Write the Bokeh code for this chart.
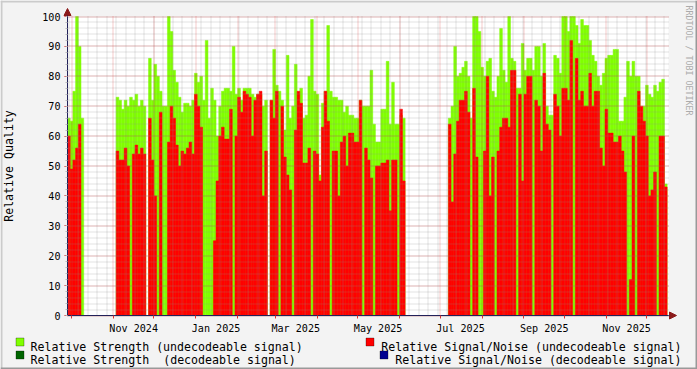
import math
import pandas as pd
from bokeh.plotting import figure
from bokeh.models import (Range1d, FixedTicker, Label, BoxAnnotation, Arrow,
                          NormalHead, DatetimeTickFormatter, ColumnDataSource)
from bokeh.embed import file_html
from bokeh.resources import INLINE

nan = float("nan")

# ---------------- data ----------------
START = "2024-09-28"
END = "2025-12-17"
BIN_DAYS = 2

# Relative Strength (undecodeable signal), one value per 2-day bin
strength = [
    66, 65, 75, 100, 90, 66,
    nan, nan, nan, nan, nan, nan, nan, nan, nan, nan, nan, nan,
    73, 72, 69, 72, 70, 73, 72, 74, 70, 72, 70,
    nan,
    86, 72, 84, 80, 75, 70, 70, 100, 95, 82,
    78, 73, 68, 71, 71, 70, 72, 81, 78, 80,
    72, 92, 66, 76, 72, 60, 70, 75, 76, 76,
    75, 90, 74, 76, 72, 76, 76, 76, 74, 73,
    74, 74, 70, 72, nan, 72, 89, 77, 75, 72,
    62, 87, 66, 70, 84, 74, 76, 66, 67, 80,
    99, 75, 74, 47, 71, 75, 97, 75, 73, 73,
    72, 72, 68, 70, 67, 67, 66, 66, 72, 70,
    70, 70, 82, 64, 58, 58, 69, 69, 85, 64,
    78, 64, 64, 67, 66,
    nan, nan, nan, nan, nan, nan, nan, nan, nan, nan, nan, nan, nan, nan, nan, nan,
    66, 70, 90, 80, 81, 83, 85, 80, 66,
    100, 100, 95, 83, 80, 85, 86, 75, 73, 80,
    96, 82, 78, 100, 86, 85, 76, 76, 91, 82,
    86, 86, 82, 90, 90, 80, 91, 70, 67, 67,
    87, 86, 81, 100, 100, 95, 100, 100, 97, 91,
    99, 97, 97, 92, 87, 85, 80, 77, 81, 86,
    87, 87, 89, 89, 65, 65, 73, 85, 80, 85,
    80, 80, 65, 70, 77, 74, 73, 77, 75, 78,
    79, 44,
]

# Relative Signal/Noise (undecodeable signal), one value per 2-day bin
snr = [
    60, 49, 52, 56, 64, 0,
    nan, nan, nan, nan, nan, nan, nan, nan, nan, nan, nan, nan,
    55, 52, 52, 56, 50, 0, 54, 57, 54, 56, 54,
    nan,
    66, 52, 40, 0, 68, 0, 0, 58, 70, 66,
    57, 50, 55, 54, 56, 58, 54, 74, 70, 63,
    0, 0, 0, 0, 25, 45, 60, 63, 59, 59,
    69, 0, 60, 73, 68, 75, 74, 73, 60, 72,
    74, 75, 40, 55, nan, 72, 66, 75, 0, 70,
    53, 47, 42, 0, 62, 75, 71, 51, 51, 56,
    0, 55, 54, 45, 63, 75, 65, 0, 55, 55,
    40, 58, 60, 50, 61, 61, 58, 58, 72, 0,
    56, 52, 46, 0, 50, 50, 51, 51, 52, 35,
    52, 52, 0, 69, 45,
    nan, nan, nan, nan, nan, nan, nan, nan, nan, nan, nan, nan, nan, nan, nan, nan,
    64, 38, 54, 65, 72, 72, 75, 68, 0,
    76, 53, 0, 0, 55, 80, 40, 53, 0, 55,
    63, 66, 66, 63, 82, 82, 0, 74, 45, 74,
    80, 80, 0, 72, 70, 55, 81, 64, 62, 0,
    74, 70, 60, 76, 76, 72, 92, 0, 86, 72,
    75, 70, 70, 81, 70, 75, 75, 56, 50, 69,
    61, 61, 58, 58, 60, 55, 48, 0, 12, 60,
    0, 75, 70, 65, 60, 40, 42, 48, 0, 60,
    60, 43,
]

Y_MIN, Y_MAX = 0, 100
y_ticks = list(range(0, 101, 10))
y_minor = list(range(0, 101, 2))
label_months = ["2024-11-01", "2025-01-01", "2025-03-01", "2025-05-01",
                "2025-07-01", "2025-09-01", "2025-11-01"]
legend_left = ["Relative Strength (undecodeable signal)",
               "Relative Strength  (decodeable signal)"]
legend_right = ["Relative Signal/Noise (undecodeable signal)",
                "Relative Signal/Noise (decodeable signal)"]
y_title = "Relative Quality"
watermark = "RRDTOOL / TOBI OETIKER"

# ---------------- layout / style ----------------
W, H = 697, 369
FL, FT, FR, FB = 67, 16, 668, 315      # data area inside the canvas
GREEN = "#80FF00"
RED = "#FF0000"
DKGREEN = "#006400"
NAVY = "#000090"
BACK = "#F3F3F3"
AXIS = "#22225A"
ARROW = "#8B1A1A"
MGRID = "#DE3030"
GRID = "#8F8F8F"
FONT = "DejaVu Sans Mono"
LEG_SIZE = 11.6
CHAR_W = LEG_SIZE * 0.602   # DejaVu Sans Mono advance width

t0 = pd.Timestamp(START)
t1 = pd.Timestamp(END)
span_days = (t1 - t0) / pd.Timedelta(days=1)
px_day = (FR - FL) / span_days
px_unit = (FB - FT) / (Y_MAX - Y_MIN)
DAY_MS = 86400000


def ms(d):
    return pd.Timestamp(d).value // 10**6


month_ms = [ms(d) for d in pd.date_range("2024-10-01", "2025-12-01", freq="MS")]
week_ms = [ms(d) for d in pd.date_range("2024-09-29", END, freq="7D")]
label_ms = [ms(pd.Timestamp(d) + pd.Timedelta(days=15)) for d in label_months]


# snap grid lines to pixel centres so that the dots stay crisp
def snap_x(t):
    px = FL + (t - ms(t0)) / DAY_MS * px_day
    return ms(t0) + (math.floor(px) + 0.5 - FL) / px_day * DAY_MS


def snap_y(v):
    py = FB - (v - Y_MIN) * px_unit
    return Y_MIN + (FB - (math.floor(py) + 0.5)) / px_unit


left = pd.date_range(START, periods=len(strength), freq=f"{BIN_DAYS}D")
src = ColumnDataSource(dict(left=left, right=left + pd.Timedelta(days=BIN_DAYS),
                            strength=strength, snr=snr))

# frame = whole canvas; the data area is placed through the ranges
x_range = Range1d(t0 - pd.Timedelta(days=FL / px_day),
                  t1 + pd.Timedelta(days=(W - FR) / px_day))
y_range = Range1d(Y_MIN - (H - FB) / px_unit, Y_MAX + FT / px_unit)

p = figure(width=W, height=H, output_backend="svg", toolbar_location=None,
           title=None, x_axis_type="datetime", x_range=x_range, y_range=y_range,
           min_border=0, min_border_left=0, min_border_right=0,
           min_border_top=0, min_border_bottom=0,
           background_fill_color=BACK, border_fill_color=BACK,
           outline_line_color=None)
p.xgrid.visible = False
p.ygrid.visible = False

# white canvas of the graph
p.quad(left=[t0], right=[t1], bottom=[Y_MIN], top=[Y_MAX],
       fill_color="white", line_color=None)

# data
p.quad(left="left", right="right", bottom=0, top="strength", source=src,
       fill_color=GREEN, line_color=GREEN, line_width=0.5)
p.quad(left="left", right="right", bottom=0, top="snr", source=src,
       fill_color=RED, line_color=RED, line_width=0.5)

# grid (rrdtool draws it over the data)
wx = [snap_x(t) for t in week_ms]
mx = [snap_x(t) for t in month_ms]
ym = [snap_y(v) for v in y_minor]
yM = [snap_y(v) for v in y_ticks]
p.segment(x0=wx, x1=wx, y0=Y_MIN, y1=Y_MAX, line_color=GRID,
          line_alpha=0.5, line_dash="1 1", line_width=1)
p.segment(x0=ms(t0), x1=ms(t1), y0=ym, y1=ym, line_color=GRID,
          line_alpha=0.5, line_dash="1 1", line_width=1)
p.segment(x0=mx, x1=mx, y0=Y_MIN, y1=Y_MAX, line_color=MGRID,
          line_alpha=0.5, line_dash="1 1", line_width=1)
p.segment(x0=ms(t0), x1=ms(t1), y0=yM, y1=yM, line_color=MGRID,
          line_alpha=0.5, line_dash="1 1", line_width=1)

# x axis (fixed at y = 0)
ax = p.xaxis[0]
ax.fixed_location = Y_MIN
ax.bounds = (ms(t0), ms(t1))
ax.ticker = FixedTicker(ticks=label_ms, minor_ticks=month_ms)
fmt = "%b %Y"
ax.formatter = DatetimeTickFormatter(microseconds=fmt, milliseconds=fmt, seconds=fmt,
                                     minsec=fmt, minutes=fmt, hourmin=fmt, hours=fmt,
                                     days=fmt, months=fmt, years=fmt)
ax.major_tick_line_color = None
ax.major_tick_out = 0
ax.major_tick_in = 0
ax.minor_tick_line_color = MGRID
ax.minor_tick_out = 3
ax.minor_tick_in = 0
ax.axis_line_color = AXIS
ax.major_label_standoff = 4
ax.major_label_text_font = FONT
ax.major_label_text_font_size = "10.1px"
ax.major_label_text_color = "black"

# y axis (fixed at the first date)
ay = p.yaxis[0]
ay.fixed_location = ms(t0)
ay.bounds = (Y_MIN, Y_MAX)
ay.ticker = FixedTicker(ticks=y_ticks, minor_ticks=y_minor)
ay.major_tick_out = 3
ay.major_tick_in = 0
ay.major_tick_line_color = MGRID
ay.minor_tick_out = 2
ay.minor_tick_in = 0
ay.minor_tick_line_color = "#BBBBBB"
ay.axis_line_color = AXIS
ay.major_label_standoff = 4
ay.major_label_text_font = FONT
ay.major_label_text_font_size = "10.1px"
ay.major_label_text_color = "black"
ay.axis_label = y_title
ay.axis_label_text_font = FONT
ay.axis_label_text_font_size = "11.6px"
ay.axis_label_text_font_style = "normal"
ay.axis_label_text_color = "black"
ay.axis_label_standoff = 23

# arrows at the ends of the axes
p.add_layout(Arrow(end=NormalHead(size=7, fill_color=ARROW, line_color=ARROW, line_width=1),
                   x_start=ms(t0), y_start=Y_MAX, x_end=ms(t0), y_end=Y_MAX + 8 / px_unit,
                   line_color=AXIS, line_width=1))
p.add_layout(Arrow(end=NormalHead(size=7, fill_color=ARROW, line_color=ARROW, line_width=1),
                   x_start=ms(t1), y_start=Y_MIN,
                   x_end=ms(t1 + pd.Timedelta(days=8 / px_day)), y_end=Y_MIN,
                   line_color=AXIS, line_width=1))


# helpers: canvas px -> screen units (frame == canvas)
def sx(cx):
    return cx


def sy(cy):
    return H - cy


def box(x0, y0, x1, y1, color, border=None):
    return BoxAnnotation(left=sx(x0), right=sx(x1), top=sy(y0), bottom=sy(y1),
                         left_units="screen", right_units="screen",
                         top_units="screen", bottom_units="screen",
                         fill_color=color, fill_alpha=1.0,
                         line_color=border, line_width=1, level="overlay")


def text_label(cx, cy, text, align):
    return Label(x=sx(cx), y=sy(cy), x_units="screen", y_units="screen",
                 text=text, text_font=FONT, text_font_size=f"{LEG_SIZE}px",
                 text_color="black", text_baseline="alphabetic", text_align=align)


# 3-D frame around the image
p.add_layout(box(0, 0, W, 2, "#CBCBCB"))
p.add_layout(box(0, 0, 2, H, "#CBCBCB"))
p.add_layout(box(0, H - 2, W, H, "#999999"))
p.add_layout(box(W - 2, 0, W, H, "#999999"))

# legend
p.add_layout(box(15.5, 337.5, 23.5, 345.5, GREEN, "black"))
p.add_layout(box(15.5, 350.5, 23.5, 358.5, DKGREEN, "black"))
p.add_layout(box(365.5, 337.5, 373.5, 345.5, RED, "black"))
p.add_layout(box(379.5, 350.5, 387.5, 358.5, NAVY, "black"))
for i, t in enumerate(legend_left):
    # SVG collapses runs of spaces, so each run-separated part is placed by column
    col = 0
    for part in t.split("  "):
        p.add_layout(text_label(30 + col * CHAR_W, 346 + 13 * i, part, "left"))
        col += len(part) + 2
for i, t in enumerate(legend_right):
    p.add_layout(text_label(681, 346 + 13 * i, t, "right"))

# watermark on the right edge
p.add_layout(Label(x=sx(688.5), y=sy(5), x_units="screen", y_units="screen",
                   text=watermark, angle=-math.pi / 2, text_font=FONT,
                   text_font_size="8.3px", text_color="#ABABAB",
                   text_baseline="middle", text_align="left"))

open("out.html", "w").write(file_html(p, INLINE))
